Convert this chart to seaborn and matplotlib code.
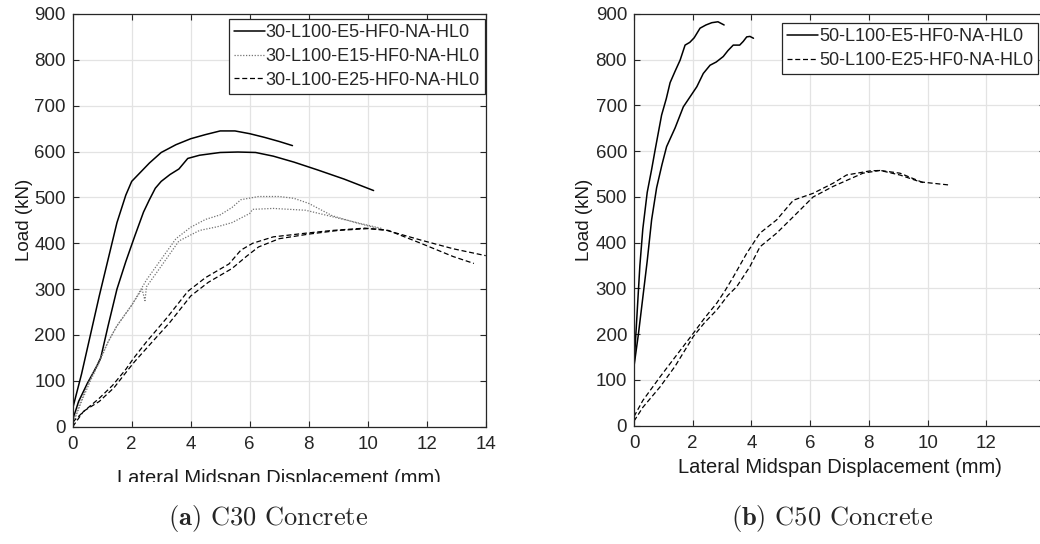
import numpy as np
import pandas as pd
import matplotlib
matplotlib.use("Agg")
import matplotlib.pyplot as plt
from matplotlib.patches import Rectangle
import seaborn as sns

# ---------------- data ----------------
# (a) C30 concrete
c30_e5_a_x = [0, 0.1, 0.3, 0.6, 0.9, 1.2, 1.5, 1.8, 2.0, 2.3, 2.6, 3.0, 3.5, 4.0, 4.5, 5.0, 5.5, 6.0, 6.5, 7.0, 7.45]
c30_e5_a_y = [40, 65, 115, 200, 285, 365, 445, 505, 535, 555, 575, 598, 615, 628, 637, 645, 645, 639, 631, 622, 613]
c30_e5_b_x = [0, 0.2, 0.5, 0.8, 0.95, 1.2, 1.5, 1.8, 2.1, 2.4, 2.6, 2.8, 3.0, 3.3, 3.6, 3.9, 4.3, 5.0, 5.6, 6.2, 6.8, 7.5, 8.3, 9.2, 10.2]
c30_e5_b_y = [15, 55, 95, 130, 150, 220, 300, 360, 415, 468, 495, 520, 535, 550, 562, 585, 592, 598, 599, 598, 590, 577, 560, 540, 515]

c30_e15_a_x = [0, 0.3, 0.6, 0.9, 1.2, 1.5, 2.0, 2.5, 3.0, 3.5, 4.0, 4.5, 5.0, 5.4, 5.7, 6.3, 7.0, 7.5, 8.0, 8.8, 9.7, 10.5]
c30_e15_a_y = [10, 60, 105, 145, 185, 220, 265, 320, 365, 410, 435, 452, 462, 478, 495, 502, 502, 498, 487, 460, 443, 430]
c30_e15_b_x = [0, 0.3, 0.6, 0.9, 1.2, 1.5, 2.0, 2.35, 2.45, 2.5, 3.0, 3.6, 4.3, 4.9, 5.4, 6.0, 6.1, 6.8, 7.9, 8.8, 9.7, 10.5]
c30_e15_b_y = [5, 55, 100, 140, 185, 220, 265, 300, 275, 305, 350, 405, 428, 436, 445, 465, 474, 476, 472, 458, 444, 432]

c30_e25_a_x = [0, 0.35, 0.9, 1.35, 1.8, 2.05, 2.5, 3.2, 3.9, 4.5, 5.3, 5.7, 6.1, 6.8, 7.9, 8.8, 9.9, 10.6, 11.8, 12.9, 14.0]
c30_e25_a_y = [0, 32, 62, 90, 125, 148, 185, 238, 295, 325, 355, 385, 400, 414, 422, 428, 433, 429, 407, 388, 373]
c30_e25_b_x = [0, 0.4, 0.9, 1.4, 1.85, 2.1, 2.6, 3.3, 4.0, 4.6, 5.4, 5.9, 6.3, 7.0, 8.0, 9.0, 10.0, 10.7, 11.8, 12.9, 13.6]
c30_e25_b_y = [10, 35, 55, 85, 122, 142, 178, 228, 285, 315, 345, 372, 392, 410, 420, 428, 432, 428, 400, 371, 356]

# (b) C50 concrete
c50_e5_a_x = [0, 0.1, 0.2, 0.3, 0.45, 0.6, 0.72, 0.94, 1.1, 1.23, 1.4, 1.57, 1.74, 1.9, 2.05, 2.25, 2.45, 2.65, 2.86, 3.07]
c50_e5_a_y = [130, 240, 350, 430, 510, 560, 603, 679, 715, 750, 775, 799, 832, 838, 848, 869, 876, 881, 883, 876]
c50_e5_b_x = [0, 0.15, 0.3, 0.45, 0.6, 0.77, 0.95, 1.11, 1.4, 1.68, 1.91, 2.14, 2.36, 2.59, 2.8, 3.04, 3.2, 3.38, 3.6, 3.72, 3.84, 3.95, 4.07]
c50_e5_b_y = [130, 200, 280, 360, 450, 520, 570, 610, 651, 697, 719, 741, 770, 788, 795, 807, 820, 832, 832, 840, 850, 851, 847]

c50_e25_a_x = [0, 0.3, 0.89, 1.4, 2.02, 2.4, 2.82, 3.1, 3.39, 3.84, 4.29, 4.86, 5.43, 6.1, 6.78, 7.24, 8.04, 8.38, 9.06, 9.9]
c50_e25_a_y = [20, 55, 107, 150, 202, 235, 268, 295, 326, 377, 421, 450, 493, 508, 530, 548, 557, 558, 552, 530]
c50_e25_b_x = [0, 0.3, 0.89, 1.4, 2.02, 2.4, 2.82, 3.2, 3.5, 3.95, 4.29, 4.86, 5.43, 6.1, 6.78, 7.8, 8.38, 9.06, 9.75, 10.76]
c50_e25_b_y = [10, 40, 85, 130, 195, 225, 253, 285, 304, 348, 391, 421, 457, 500, 523, 552, 558, 548, 533, 526]

labels_c30 = ["30-L100-E5-HF0-NA-HL0", "30-L100-E15-HF0-NA-HL0", "30-L100-E25-HF0-NA-HL0"]
labels_c50 = ["50-L100-E5-HF0-NA-HL0", "50-L100-E25-HF0-NA-HL0"]
x_ticks = [0, 2, 4, 6, 8, 10, 12, 14]
x_ticklabels_a = ["0", "2", "4", "6", "8", "10", "12", "14"]
x_ticklabels_b = ["0", "2", "4", "6", "8", "10", "12", ""]
y_ticks = [0, 100, 200, 300, 400, 500, 600, 700, 800, 900]
xlabel_text = "Lateral Midspan Displacement (mm)"
ylabel_text = "Load (kN)"
captions = [r"$\mathbf{(a)}$ C30 Concrete", r"$\mathbf{(b)}$ C50 Concrete"]

# ---------------- style ----------------
sns.set_style("ticks")
plt.rcParams["font.family"] = ["Liberation Sans", "DejaVu Sans"]
plt.rcParams["mathtext.fontset"] = "cm"

DARK = "#262626"
GRID = "#e3e3e3"
styles = {
    "E5": dict(color="black", linestyle="-", linewidth=1.1),
    "E15": dict(color="#737373", linestyle=(0, (1, 1.3)), linewidth=0.9),
    "E25": dict(color="black", linestyle=(0, (4, 2.2)), linewidth=0.9),
}

fig = plt.figure(figsize=(10.4, 5.44), dpi=100)
W, H = 1040.0, 544.0
ax1 = fig.add_axes([72.7 / W, (H - 426.7) / H, 413.0 / W, 412.7 / H])
ax2 = fig.add_axes([634.0 / W, (H - 425.7) / H, 411.0 / W, 411.7 / H])


def draw(ax, x, y, key, label=None):
    df = pd.DataFrame({"x": x, "y": y})
    sns.lineplot(data=df, x="x", y="y", ax=ax, sort=False, estimator=None,
                 label=label, legend=False, **styles[key])


draw(ax1, c30_e5_a_x, c30_e5_a_y, "E5", labels_c30[0])
draw(ax1, c30_e5_b_x, c30_e5_b_y, "E5")
draw(ax1, c30_e15_a_x, c30_e15_a_y, "E15", labels_c30[1])
draw(ax1, c30_e15_b_x, c30_e15_b_y, "E15")
draw(ax1, c30_e25_a_x, c30_e25_a_y, "E25", labels_c30[2])
draw(ax1, c30_e25_b_x, c30_e25_b_y, "E25")

draw(ax2, c50_e5_a_x, c50_e5_a_y, "E5", labels_c50[0])
draw(ax2, c50_e5_b_x, c50_e5_b_y, "E5")
draw(ax2, c50_e25_a_x, c50_e25_a_y, "E25", labels_c50[1])
draw(ax2, c50_e25_b_x, c50_e25_b_y, "E25")

for ax, xtl in ((ax1, x_ticklabels_a), (ax2, x_ticklabels_b)):
    ax.set_xlim(0, 14)
    ax.set_ylim(0, 900)
    ax.set_xticks(x_ticks)
    ax.set_xticklabels(xtl)
    ax.set_yticks(y_ticks)
    ax.grid(True, color=GRID, linewidth=0.9)
    ax.set_axisbelow(True)
    for s in ax.spines.values():
        s.set_visible(True)
        s.set_color(DARK)
        s.set_linewidth(0.9)
    ax.tick_params(direction="in", top=True, right=True, length=4, width=0.8,
                   colors=DARK, labelsize=13.5)
    ax.tick_params(axis="x", pad=7)
    ax.tick_params(axis="y", pad=5)
    ax.set_xlabel(xlabel_text, fontsize=14.5, color="#1a1a1a", va="top")
    ax.set_ylabel(ylabel_text, fontsize=13.5, color="#1a1a1a")

ax1.xaxis.set_label_coords(0.5, -0.103)
ax2.xaxis.set_label_coords(0.5, -0.078)
ax1.yaxis.set_label_coords(-0.097, 0.5)
ax2.yaxis.set_label_coords(-0.10, 0.5)

leg_kw = dict(fontsize=13, frameon=True, fancybox=False, framealpha=1,
              edgecolor=DARK, borderpad=0.28, labelspacing=0.38,
              handlelength=1.7, handletextpad=0.05, borderaxespad=0.0)
l1 = ax1.legend(loc="upper right", bbox_to_anchor=(0.998, 0.988), **leg_kw)
l2 = ax2.legend(loc="upper right", bbox_to_anchor=((1038 - 634) / 411.0, 0.978), **leg_kw)
for lg in (l1, l2):
    lg.get_frame().set_linewidth(0.9)

# crop of the left x-label as in the reference
fig.add_artist(Rectangle((0, 0), 0.5, (H - 482) / H, transform=fig.transFigure,
                         facecolor="white", edgecolor="none", zorder=10))

fig.text(268 / W, (H - 518) / H, captions[0], family="cmr10", fontsize=19,
         ha="center", va="center", zorder=11)
fig.text(832 / W, (H - 518) / H, captions[1], family="cmr10", fontsize=19,
         ha="center", va="center", zorder=11)

fig.savefig("out.png", dpi=100, facecolor="white")
